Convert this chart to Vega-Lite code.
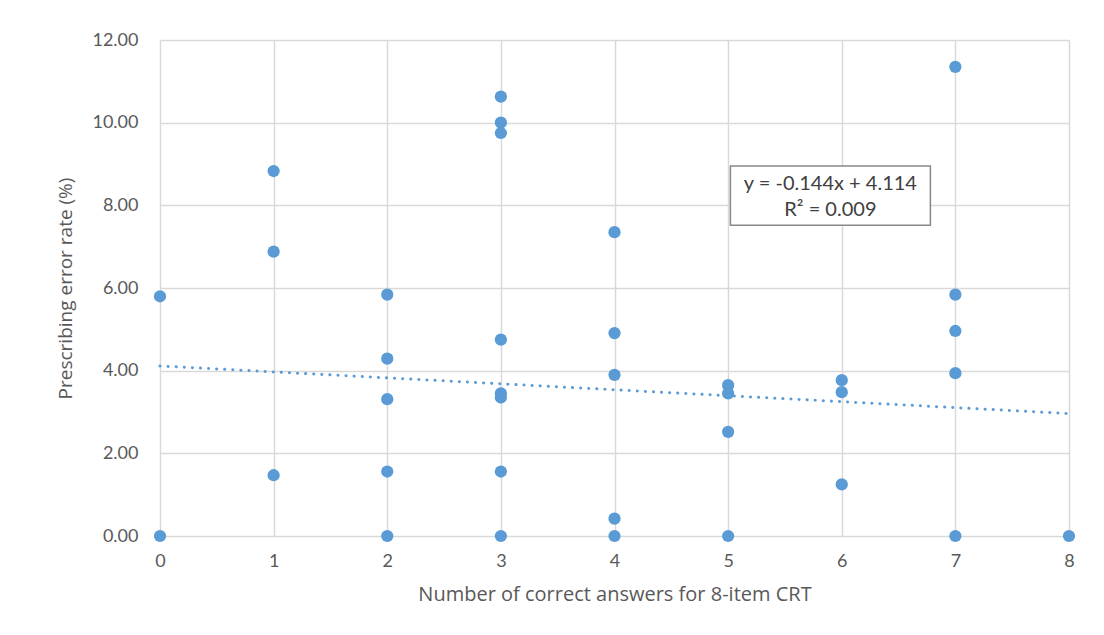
{
  "$schema": "https://vega.github.io/schema/vega-lite/v6.json",
  "width": 909,
  "height": 496,
  "autosize": {"type": "none"},
  "padding": {"left": 160, "top": 40, "right": 35, "bottom": 99},
  "background": "white",
  "config": {
    "view": {"stroke": null},
    "font": "Lato",
    "axis": {
      "gridColor": "#d9d9d9",
      "gridWidth": 1.5,
      "domain": false,
      "ticks": false,
      "labelFlush": false,
      "labelColor": "#595959",
      "titleColor": "#595959",
      "labelFont": "Lato",
      "titleFont": "Open Sans",
      "labelFontSize": 18,
      "titleFontSize": 20,
      "titleFontWeight": "normal"
    }
  },
  "datasets": {
    "pts": [
      {"crt": 0, "rate": 5.80}, {"crt": 0, "rate": 0},
      {"crt": 1, "rate": 8.83}, {"crt": 1, "rate": 6.88}, {"crt": 1, "rate": 1.47},
      {"crt": 2, "rate": 5.84}, {"crt": 2, "rate": 4.29}, {"crt": 2, "rate": 3.31}, {"crt": 2, "rate": 1.56}, {"crt": 2, "rate": 0},
      {"crt": 3, "rate": 10.63}, {"crt": 3, "rate": 10.00}, {"crt": 3, "rate": 9.75}, {"crt": 3, "rate": 4.75}, {"crt": 3, "rate": 3.45}, {"crt": 3, "rate": 3.35}, {"crt": 3, "rate": 1.56}, {"crt": 3, "rate": 0},
      {"crt": 4, "rate": 7.35}, {"crt": 4, "rate": 4.91}, {"crt": 4, "rate": 3.90}, {"crt": 4, "rate": 0.42}, {"crt": 4, "rate": 0},
      {"crt": 5, "rate": 3.65}, {"crt": 5, "rate": 3.45}, {"crt": 5, "rate": 2.52}, {"crt": 5, "rate": 0},
      {"crt": 6, "rate": 3.77}, {"crt": 6, "rate": 3.48}, {"crt": 6, "rate": 1.25},
      {"crt": 7, "rate": 11.35}, {"crt": 7, "rate": 5.84}, {"crt": 7, "rate": 4.96}, {"crt": 7, "rate": 3.94}, {"crt": 7, "rate": 0},
      {"crt": 8, "rate": 0}
    ],
    "trend": [
      {"crt": 0, "rate": 4.114},
      {"crt": 8, "rate": 2.962}
    ],
    "box": [
      {"x1": 5.02, "x2": 6.78, "y1": 7.52, "y2": 8.95}
    ],
    "labels": [
      {"x": 5.9, "y": 8.52, "t": "y = -0.144x + 4.114"},
      {"x": 5.9, "y": 7.88, "t": "R² = 0.009"}
    ]
  },
  "layer": [
    {
      "data": {"name": "trend"},
      "mark": {"type": "line", "color": "#5b9bd5", "strokeWidth": 3, "strokeDash": [0.1, 8], "strokeCap": "round"},
      "encoding": {
        "x": {"field": "crt", "type": "quantitative", "scale": {"domain": [0, 8], "nice": false},
          "axis": {"title": "Number  of correct answers for 8-item CRT", "values": [0,1,2,3,4,5,6,7,8], "labelPadding": 16, "titlePadding": 14, "format": "d"}},
        "y": {"field": "rate", "type": "quantitative", "scale": {"domain": [0, 12], "nice": false},
          "axis": {"title": "Prescribing error rate (%)", "titleFontSize": 19, "values": [0,2,4,6,8,10,12], "format": ".2f", "labelPadding": 22, "titlePadding": 16}}
      }
    },
    {
      "data": {"name": "pts"},
      "mark": {"type": "point", "shape": "circle", "filled": true, "size": 150, "color": "#5b9bd5", "opacity": 1},
      "encoding": {
        "x": {"field": "crt", "type": "quantitative"},
        "y": {"field": "rate", "type": "quantitative"}
      }
    },
    {
      "data": {"name": "box"},
      "mark": {"type": "rect", "fill": "white", "stroke": "#888888", "strokeWidth": 1.5},
      "encoding": {
        "x": {"field": "x1", "type": "quantitative"},
        "x2": {"field": "x2"},
        "y": {"field": "y1", "type": "quantitative"},
        "y2": {"field": "y2"}
      }
    },
    {
      "data": {"name": "labels"},
      "mark": {"type": "text", "fontSize": 20, "color": "#404040", "align": "center", "baseline": "middle", "font": "Lato"},
      "encoding": {
        "x": {"field": "x", "type": "quantitative"},
        "y": {"field": "y", "type": "quantitative"},
        "text": {"field": "t"}
      }
    }
  ]
}
